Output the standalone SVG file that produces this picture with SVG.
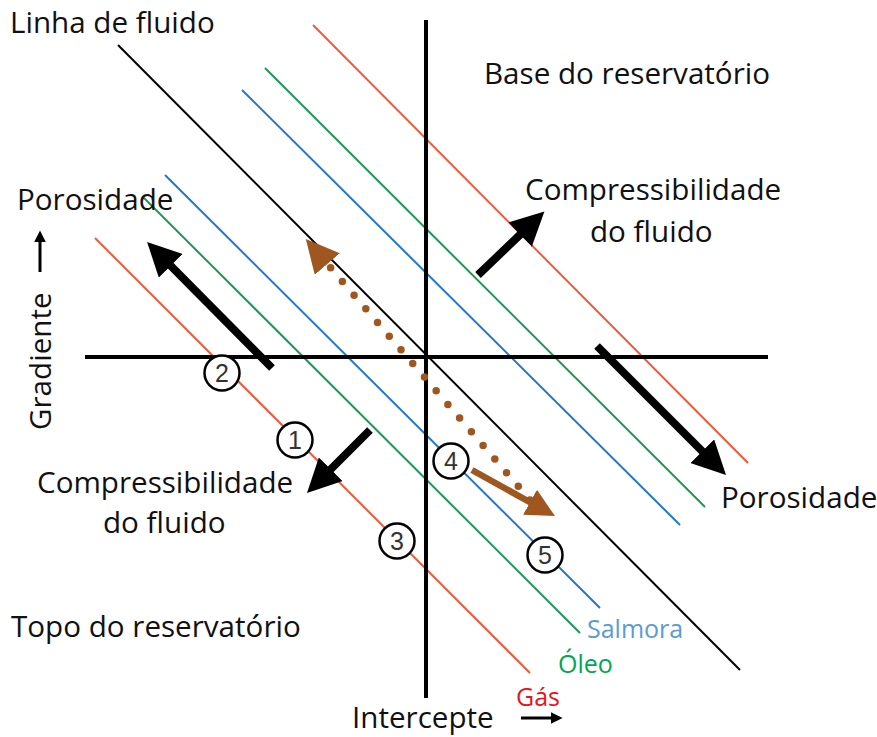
<svg xmlns="http://www.w3.org/2000/svg" width="877" height="737" viewBox="0 0 877 737">
<defs>
<style>
.t{font-family:"Open Sans","Noto Sans","Liberation Sans",sans-serif;font-size:29.6px;fill:#111}
.s{font-family:"Open Sans","Noto Sans","Liberation Sans",sans-serif;font-size:25px}
.n{font-family:"Liberation Sans",Arial,sans-serif;font-size:25px;fill:#333;text-anchor:middle}
.red{stroke:#ef5a3c;stroke-width:2;fill:none}
.grn{stroke:#1a9a55;stroke-width:2;fill:none}
.blu{stroke:#2277cc;stroke-width:2;fill:none}
.axis{stroke:#000;stroke-width:4;fill:none}
.thick{stroke:#000;stroke-width:8;fill:none;marker-end:url(#ah)}
.circ{fill:#fff;stroke:#000;stroke-width:2.5}
</style>
<marker id="ah" viewBox="0 0 10 10" refX="2" refY="5" markerWidth="4.2" markerHeight="4.2" orient="auto" markerUnits="strokeWidth">
<path d="M0,0 L10,5 L0,10 z" fill="#000"/>
</marker>
<marker id="bh" viewBox="0 0 10 10" refX="2" refY="5" markerWidth="4.4" markerHeight="4.4" orient="auto" markerUnits="strokeWidth">
<path d="M0,0 L10,5 L0,10 z" fill="#a0561f"/>
</marker>
<marker id="sh" viewBox="0 0 10 10" refX="2" refY="5" markerWidth="4" markerHeight="4" orient="auto" markerUnits="strokeWidth">
<path d="M0,0 L10,5 L0,10 z" fill="#000"/>
</marker>
</defs>
<rect width="877" height="737" fill="#fff"/>
<g id="connectors">
<line class="red" x1="313" y1="25" x2="748" y2="463"/>
<line class="grn" x1="265" y1="68" x2="705" y2="507"/>
<line class="blu" x1="242" y1="90" x2="680" y2="525"/>
<line class="blu" x1="165" y1="175" x2="600" y2="608"/>
<line class="grn" x1="143" y1="197" x2="580" y2="633"/>
<line class="red" x1="95" y1="238" x2="530" y2="673"/>
<line x1="118" y1="45" x2="740" y2="670" stroke="#000" stroke-width="2"/>
<line class="axis" x1="426" y1="20" x2="426" y2="698"/>
<line class="axis" x1="85" y1="357" x2="768" y2="357"/>
<line class="thick" x1="272" y1="368" x2="166" y2="261"/>
<line class="thick" x1="370" y1="430" x2="326" y2="474"/>
<line class="thick" x1="478" y1="275" x2="525" y2="230"/>
<line class="thick" x1="597" y1="346" x2="707" y2="456"/>
<line x1="530" y1="500" x2="323" y2="259" stroke="#a0561f" stroke-width="7.5" stroke-linecap="round" stroke-dasharray="0 18" marker-end="url(#bh)"/>
<line x1="472" y1="470" x2="535" y2="505" stroke="#a0561f" stroke-width="6.5" marker-end="url(#bh)"/>
<line x1="40" y1="272" x2="40" y2="240" stroke="#000" stroke-width="3" marker-end="url(#sh)"/>
<line x1="521" y1="718" x2="553" y2="718" stroke="#000" stroke-width="3" marker-end="url(#sh)"/>
</g>
<g id="n1"><circle class="circ" cx="295" cy="440" r="17.5"/><text class="n" x="295" y="449">1</text></g>
<g id="n2"><circle class="circ" cx="222" cy="373" r="17.5"/><text class="n" x="222" y="382">2</text></g>
<g id="n3"><circle class="circ" cx="397" cy="541" r="17.5"/><text class="n" x="397" y="550">3</text></g>
<g id="n4"><circle class="circ" cx="451" cy="461" r="17.5"/><text class="n" x="451" y="470">4</text></g>
<g id="n5"><circle class="circ" cx="545" cy="555" r="17.5"/><text class="n" x="545" y="564">5</text></g>
<g id="labels">
<text class="t" x="10" y="33">Linha de fluido</text>
<text class="t" x="484" y="84">Base do reservatório</text>
<text class="t" x="17" y="210">Porosidade</text>
<text class="t" x="525" y="200">Compressibilidade</text>
<text class="t" x="590" y="242">do fluido</text>
<text class="t" x="37" y="493">Compressibilidade</text>
<text class="t" x="103" y="533">do fluido</text>
<text class="t" x="721" y="508">Porosidade</text>
<text class="t" x="11" y="637">Topo do reservatório</text>
<text class="t" x="352" y="728">Intercepte</text>
<text class="t" transform="translate(51,430) rotate(-90)">Gradiente</text>
<text class="s" x="587" y="638" fill="#5b9bd5">Salmora</text>
<text class="s" x="558" y="673" fill="#00a651">Óleo</text>
<text class="s" x="516" y="706" fill="#e8141c">Gás</text>
</g>
</svg>
